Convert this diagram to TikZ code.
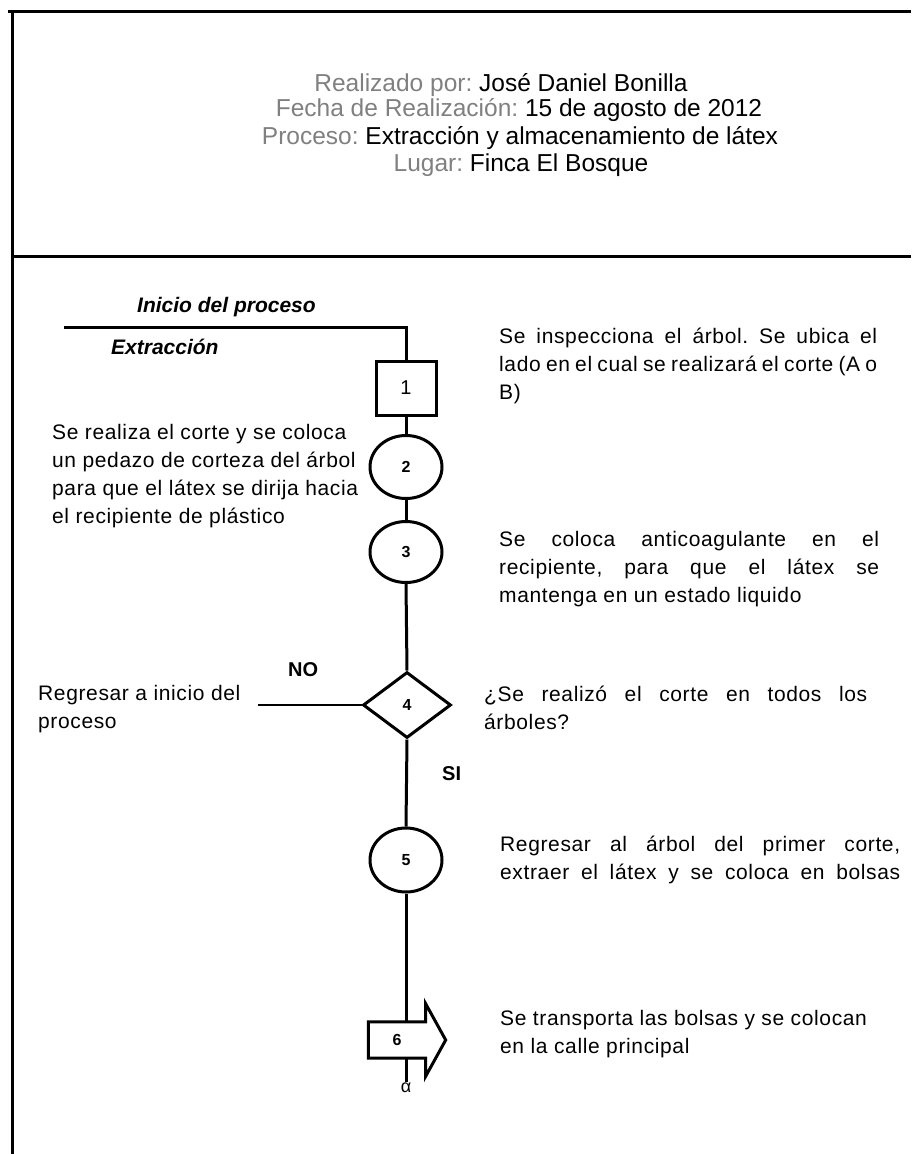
\documentclass[tikz,border=0pt]{standalone}
\usepackage{fontspec}
\setmainfont{Liberation Sans}
\newfontfamily\bodyfont[LetterSpace=3]{Liberation Sans}
\usetikzlibrary{shapes.geometric,calc}
\definecolor{lblgray}{RGB}{128,128,128}
\frenchspacing
\begin{document}
\begin{tikzpicture}[x=1pt,y=-1pt,
  frame/.style={line width=3pt},
  conn/.style={line width=3pt},
  thinconn/.style={line width=1.6pt},
  shp/.style={draw, line width=3pt, inner sep=0pt},
  hdr/.style={font=\fontsize{24.5}{27}\selectfont, anchor=base, inner sep=0pt},
  body/.style={font=\bodyfont\fontsize{21}{28}\selectfont, anchor=base west, inner sep=0pt, align=left},
  ital/.style={font=\fontsize{21}{25}\selectfont\bfseries\itshape, anchor=base west, inner sep=0pt},
  bl/.style={font=\fontsize{20}{24}\selectfont\bfseries, anchor=base west, inner sep=0pt},
  num/.style={font=\fontsize{16}{18}\selectfont\bfseries},
]
\useasboundingbox (0,0) rectangle (911,1154);
% frame
\draw[frame] (8,11) -- (911,11);
\draw[frame] (12,10) -- (12,1154);
\draw[frame] (12,256) -- (911,256);
% header
\node[hdr] (h1) at (501,91) {{\color{lblgray}Realizado por:} José Daniel Bonilla};
\node[hdr] (h2) at (519,116) {{\color{lblgray}Fecha de Realización:} 15 de agosto de 2012};
\node[hdr] (h3) at (520,144) {{\color{lblgray}Proceso:} Extracción y almacenamiento de látex};
\node[hdr] (h4) at (521,171) {{\color{lblgray}Lugar:} Finca El Bosque};
% labels
\node[ital] (inicio) at (137,312) {Inicio del proceso};
\node[ital] (extr) at (111,354) {Extracción};
\node[bl] (no) at (288,676) {NO};
\node[bl] (si) at (442,780) {SI};
% shapes
\node[shp, rectangle, minimum width=60pt, minimum height=54pt, font=\fontsize{20}{22}\selectfont] (n1) at (406,388) {1};
\node[shp, ellipse, minimum width=72pt, minimum height=63pt, num] (n2) at (406,467) {2};
\node[shp, ellipse, minimum width=72pt, minimum height=61pt, num] (n3) at (406,552) {3};
\node[shp, diamond, minimum width=88pt, minimum height=66pt, num] (n4) at (407,705) {4};
\node[shp, ellipse, minimum width=72pt, minimum height=64pt, num] (n5) at (406,860) {5};
\node[inner sep=0pt, minimum width=57pt, minimum height=36pt, num] (n6) at (397,1040) {6};
\draw[shp] (n6.north west) -- (n6.north east) -- ++(0,-18) -- ($(n6.east)+(20,0)$)
  -- ($(n6.south east)+(0,18)$) -- (n6.south east) -- (n6.south west) -- cycle;
\node[font=\fontsize{18}{20}\selectfont, inner sep=1pt] (alpha) at (406,1088) {α};
% connectors
\coordinate (s0) at (64,327);
\coordinate (noend) at (258,705);
\draw[conn] (s0) -| (n1.north);
\draw[conn] (n1.south) -- (n2.north);
\draw[conn] (n2.south) -- (n3.north);
\draw[conn] (n3.south) -- (n4.north);
\draw[conn] (n4.south) -- (n5.north);
\draw[conn] (n5.south) -- (n5.south |- n6.north);
\draw[conn] (n5.south |- n6.south) -- (alpha.north);
\draw[thinconn] (n4.west) -- (noend);
% descriptions (base anchor = baseline of the last line)
\node[body] (t1) at (499,399) {\makebox[378pt][s]{Se inspecciona el árbol. Se ubica el}\\
  \makebox[378pt][s]{lado en el cual se realizará el corte (A o}\\B)};
\node[body] (t2) at (52,523) {Se realiza el corte y se coloca\\un pedazo de corteza del árbol\\para que el látex se dirija hacia\\el recipiente de plástico};
\node[body] (t3) at (499,602) {\makebox[380pt][s]{Se coloca anticoagulante en el}\\
  \makebox[380pt][s]{recipiente, para que el látex se}\\mantenga en un estado liquido};
\node[body] (t4) at (38,728) {Regresar a inicio del\\proceso};
\node[body] (t5) at (484,729) {\makebox[383pt][s]{¿Se realizó el corte en todos los}\\árboles?};
\node[body] (t6) at (500,879) {\makebox[400pt][s]{Regresar al árbol del primer corte,}\\
  \makebox[400pt][s]{extraer el látex y se coloca en bolsas}};
\node[body] (t7) at (500,1053) {Se transporta las bolsas y se colocan\\en la calle principal};
\end{tikzpicture}
\end{document}
